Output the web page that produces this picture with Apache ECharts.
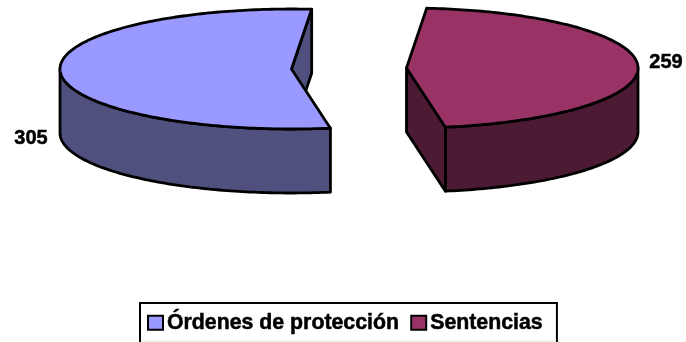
<!DOCTYPE html>
<html>
<head>
<meta charset="utf-8">
<style>html,body{margin:0;padding:0;background:#fff;overflow:hidden}#c{width:686px;height:342px}</style>
<script src="https://cdn.jsdelivr.net/npm/echarts@6/dist/echarts.min.js"></script>
</head>
<body>
<div id="c"></div>
<script>
var categories = ['Órdenes de protección', 'Sentencias'];
var values = [305, 259];
var topColors = ['#9999ff', '#993366'];
var wallColors = ['#50507f', '#4d1a33'];

var total = values[0] + values[1];
var startDeg = 5;                       // clockwise from 12 o'clock
var sentEnd = startDeg + values[1] / total * 360;
var ranges = [[sentEnd, startDeg + 360], [startDeg, sentEnd]];
var centers = [[291.5, 69], [406.5, 68]];
var labelPos = [[31, 138], [666, 62]];
var RX = 231.5, RY = 60, H = 64;

function pt(c, d, dy) {
  var a = d * Math.PI / 180;
  return [c[0] + RX * Math.sin(a), c[1] - RY * Math.cos(a) + (dy || 0)];
}
function arc(c, a, b, dy) {
  var out = [], n = Math.max(2, Math.ceil(Math.abs(b - a)));
  for (var i = 0; i <= n; i++) out.push(pt(c, a + (b - a) * i / n, dy));
  return out;
}
function face(points, fill) {
  return {
    type: 'polygon',
    shape: { points: points },
    style: { fill: fill, stroke: '#000', lineWidth: 2.8, lineJoin: 'round' }
  };
}
function sliceSeries(idx) {
  return {
    type: 'custom',
    name: categories[idx],
    coordinateSystem: 'none',
    silent: true,
    itemStyle: { color: topColors[idx] },
    data: [[values[idx]]],
    renderItem: function (params, api) {
      var c = centers[idx], r = ranges[idx], kids = [];
      var apexDown = [c[0], c[1] + H];
      var p1 = pt(c, r[1]), p2 = pt(c, r[1], H);
      var wall = wallColors[idx];
      if (idx === 0) kids.push(face([c, p1, p2, apexDown], wall));
      // outer front wall (90..270 deg is the visible half)
      var a = Math.max(r[0], 90), b = Math.min(r[1], 270);
      kids.push(face(arc(c, a, b).concat(arc(c, b, a, H)), wall));
      if (idx === 1) kids.push(face([c, p1, p2, apexDown], wall));
      // top face
      kids.push(face([c].concat(arc(c, r[0], r[1])), topColors[idx]));
      kids.push({
        type: 'text',
        style: {
          x: labelPos[idx][0], y: labelPos[idx][1],
          text: String(api.value(0)),
          fill: '#000',
          stroke: '#000',
          lineWidth: 0.5,
          font: 'bold 20px "Liberation Sans"',
          align: 'center', verticalAlign: 'middle'
        }
      });
      return { type: 'group', children: kids };
    }
  };
}
var chart = echarts.init(document.getElementById('c'), null, { renderer: 'canvas' });
chart.setOption({
  animation: false,
  backgroundColor: '#fff',
  legend: {
    data: categories,
    left: 140,
    top: 303,
    padding: [9, 14, 24, 7],
    itemGap: 11,
    itemWidth: 15,
    itemHeight: 14,
    borderColor: '#000',
    borderWidth: 2,
    icon: 'rect',
    itemStyle: { borderColor: '#000', borderWidth: 2 },
    textStyle: {
      fontFamily: 'Liberation Sans', fontWeight: 'bold', fontSize: 21.3, color: '#000',
      textBorderColor: '#000', textBorderWidth: 0.5, padding: [0, 0, 0, -1]
    }
  },
  graphic: [{
    type: 'rect', silent: true, z: 100,
    shape: { x: 141, y: 340.5, width: 415, height: 1 },
    style: { fill: '#e4e4e4' }
  }],
  series: [sliceSeries(0), sliceSeries(1)]
});
</script>
</body>
</html>
